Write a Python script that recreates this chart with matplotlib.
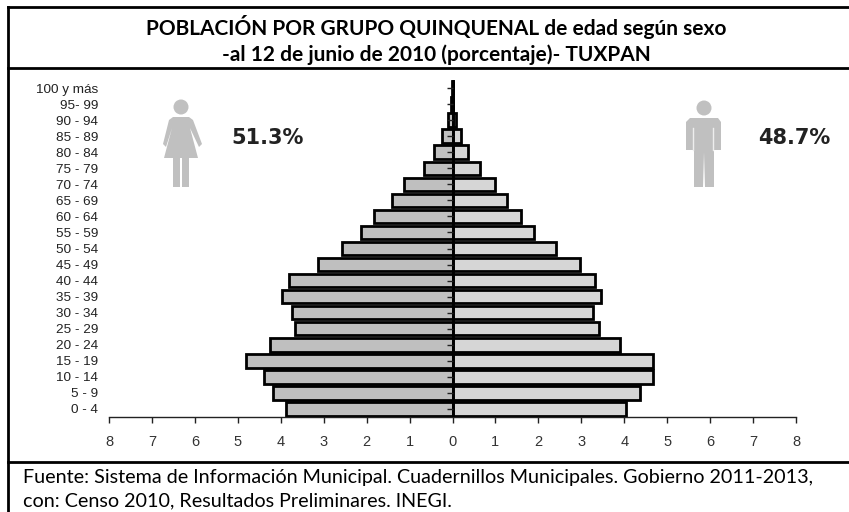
import matplotlib
matplotlib.use("Agg")
import matplotlib.pyplot as plt
from matplotlib.patches import Polygon, Circle, Rectangle

W, H = 849, 512
ages = ["0 - 4", "5 - 9", "10 - 14", "15 - 19", "20 - 24", "25 - 29", "30 - 34",
        "35 - 39", "40 - 44", "45 - 49", "50 - 54", "55 - 59", "60 - 64", "65 - 69",
        "70 - 74", "75 - 79", "80 - 84", "85 - 89", "90 - 94", "95- 99", "100 y más"]
mujeres = [3.87, 4.17, 4.39, 4.80, 4.26, 3.67, 3.74, 3.98, 3.81, 3.13, 2.58,
           2.12, 1.82, 1.41, 1.12, 0.67, 0.43, 0.24, 0.10, 0.03, 0.01]
hombres = [4.04, 4.37, 4.67, 4.67, 3.89, 3.42, 3.28, 3.45, 3.32, 2.98, 2.42,
           1.90, 1.60, 1.26, 0.98, 0.65, 0.36, 0.19, 0.09, 0.02, 0.01]
xticks = list(range(-8, 9))
xlabels = [str(abs(t)) for t in xticks]

fig = plt.figure(figsize=(W / 100, H / 100), dpi=100, facecolor="white")

bg = fig.add_axes([0, 0, 1, 1])
bg.set_xlim(0, W); bg.set_ylim(H, 0); bg.axis("off")
# Frame: open on the right and at the bottom, as in the reference
bg.plot([8, 8], [7, H], color="black", lw=2, solid_capstyle="projecting")
for yy in (7, 68, 462):
    bg.plot([8, W], [yy, yy], color="black", lw=2)
bg.text(436, 27, "POBLACIÓN POR GRUPO QUINQUENAL de edad según sexo", ha="center", va="center",
        family="Lato", weight="bold", fontsize=15)
bg.text(436, 55, "-al 12 de junio de 2010 (porcentaje)- TUXPAN", ha="center", va="center",
        family="Lato", weight="bold", fontsize=15)
bg.text(23, 477, "Fuente: Sistema de Información Municipal. Cuadernillos Municipales. Gobierno 2011-2013,",
        va="center", family="Lato", fontsize=14.2)
bg.text(23, 501, "con: Censo 2010, Resultados Preliminares. INEGI.", va="center", family="Lato", fontsize=14.2)
bg.text(231, 138, "51.3%", family="DejaVu Sans", weight="bold", fontsize=15, va="center", color="#222222")
bg.text(758, 138, "48.7%", family="DejaVu Sans", weight="bold", fontsize=15, va="center", color="#222222")

grey = "#c0c0c0"
# Woman pictogram
bg.add_patch(Circle((181, 107), 7.5, color=grey, lw=0))
bg.add_patch(Polygon([(173, 117), (189, 117), (193, 120), (202, 144), (199, 147), (190, 128),
                      (198, 158), (164, 158), (172, 128), (166, 147), (163, 144), (169, 120)],
                     color=grey, lw=0))
bg.add_patch(Rectangle((173, 158), 7.5, 29, color=grey, lw=0))
bg.add_patch(Rectangle((182, 158), 7.5, 29, color=grey, lw=0))
# Man pictogram
bg.add_patch(Circle((704, 108), 7.5, color=grey, lw=0))
bg.add_patch(Polygon([(690, 118), (718, 118), (721, 122), (721, 150), (714, 150), (714, 187),
                      (705, 187), (704, 152), (703, 187), (694, 187), (694, 150), (686, 150),
                      (686, 122)], color=grey, lw=0))
for xx in (693, 713):
    bg.plot([xx, xx], [128, 150], color="#eeeeee", lw=1)

ax = fig.add_axes([109 / W, 1 - 417 / H, (796 - 109) / W, (417 - 80) / H])
ypos = list(range(len(ages)))
edge = "#000000"
ax.barh(ypos, [-v for v in mujeres], height=0.84, color="#bfbfbf", edgecolor=edge, linewidth=2, zorder=2)
ax.barh(ypos, hombres, height=0.84, color="#d6d6d6", edgecolor=edge, linewidth=2, zorder=2)
ax.set_xlim(-8, 8)
ax.set_ylim(-0.5, len(ages) - 0.5)
ax.patch.set_alpha(0)
for s in ["top", "right", "left"]:
    ax.spines[s].set_visible(False)
ax.spines["bottom"].set_linewidth(1.0)
ax.spines["bottom"].set_color("#222222")
ax.set_xticks(xticks)
ax.set_xticklabels(xlabels, family="Liberation Sans", fontsize=10.5, color="#333333")
ax.tick_params(axis="x", direction="out", length=4, width=1, pad=9, color="#222222")
ax.set_yticks(ypos)
ax.set_yticklabels(ages, family="Liberation Sans", fontsize=9.7, color="#222222")
ax.tick_params(axis="y", length=0, pad=0)
for lab in ax.get_yticklabels():
    lab.set_x(-0.016)
ax.axvline(0, color="black", lw=1.8, zorder=3)
ax.plot([0] * len(ypos), ypos, marker=0, ms=4, color="#222222", lw=0, zorder=4, mew=1)

fig.savefig("out.png", dpi=100)
